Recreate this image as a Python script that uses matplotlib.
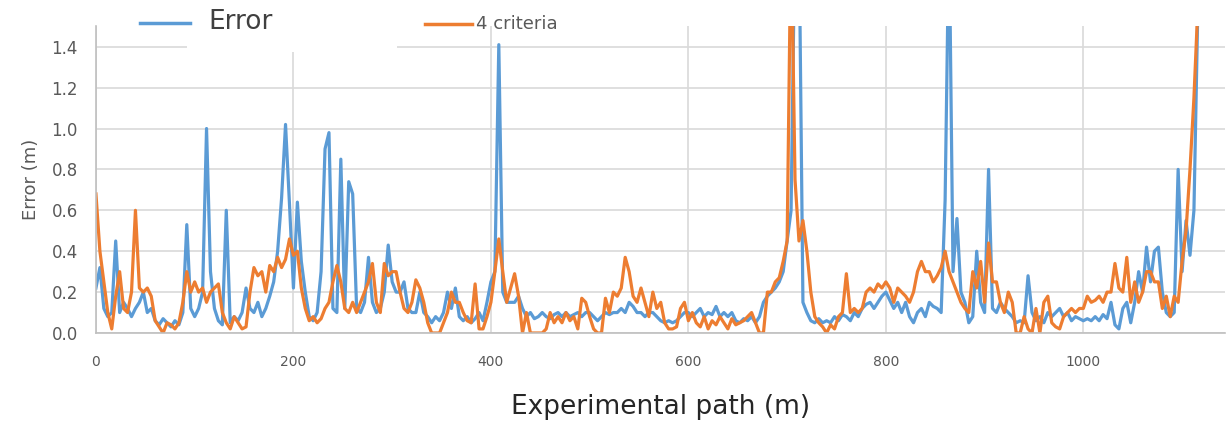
import matplotlib
matplotlib.use("Agg")
import matplotlib.pyplot as plt
import numpy as np
from matplotlib.lines import Line2D
from matplotlib.patches import Rectangle

# distance along the path, one sample every 4 m
path_m = np.arange(0, 1117, 4)

# position error (m), one row per 100 m
error = [
    0.22, 0.32, 0.12, 0.08, 0.10, 0.45, 0.10, 0.15, 0.12, 0.08, 0.12, 0.15, 0.20, 0.10, 0.12, 0.06, 0.04, 0.07, 0.05, 0.03, 0.06, 0.04, 0.10, 0.53, 0.12,
    0.08, 0.12, 0.20, 1.00, 0.30, 0.12, 0.06, 0.04, 0.60, 0.05, 0.08, 0.06, 0.10, 0.22, 0.12, 0.10, 0.15, 0.08, 0.12, 0.18, 0.25, 0.40, 0.66, 1.02, 0.63,
    0.22, 0.64, 0.35, 0.20, 0.08, 0.06, 0.10, 0.30, 0.90, 0.98, 0.12, 0.10, 0.85, 0.12, 0.74, 0.68, 0.12, 0.10, 0.15, 0.37, 0.15, 0.10, 0.12, 0.20, 0.43,
    0.25, 0.20, 0.20, 0.25, 0.12, 0.10, 0.10, 0.20, 0.10, 0.08, 0.05, 0.08, 0.06, 0.10, 0.20, 0.12, 0.22, 0.08, 0.06, 0.08, 0.05, 0.07, 0.10, 0.06, 0.15,
    0.25, 0.30, 1.41, 0.20, 0.15, 0.15, 0.15, 0.18, 0.12, 0.08, 0.10, 0.07, 0.08, 0.10, 0.08, 0.07, 0.09, 0.10, 0.08, 0.10, 0.08, 0.09, 0.10, 0.08, 0.10,
    0.10, 0.08, 0.06, 0.08, 0.10, 0.09, 0.10, 0.10, 0.12, 0.10, 0.15, 0.13, 0.10, 0.10, 0.08, 0.10, 0.10, 0.08, 0.06, 0.05, 0.06, 0.05, 0.06, 0.08, 0.10,
    0.10, 0.08, 0.10, 0.12, 0.08, 0.10, 0.09, 0.13, 0.08, 0.10, 0.08, 0.10, 0.06, 0.05, 0.07, 0.06, 0.08, 0.05, 0.08, 0.15, 0.18, 0.20, 0.22, 0.25, 0.30,
    0.45, 0.60, 2.00, 2.00, 0.15, 0.10, 0.06, 0.05, 0.07, 0.05, 0.06, 0.05, 0.08, 0.06, 0.09, 0.08, 0.06, 0.10, 0.08, 0.12, 0.14, 0.15, 0.12, 0.15, 0.18,
    0.20, 0.16, 0.12, 0.15, 0.10, 0.15, 0.08, 0.05, 0.10, 0.12, 0.08, 0.15, 0.13, 0.12, 0.10, 0.65, 2.00, 0.30, 0.56, 0.20, 0.15, 0.05, 0.08, 0.40, 0.15,
    0.10, 0.80, 0.12, 0.10, 0.15, 0.12, 0.10, 0.08, 0.05, 0.06, 0.05, 0.28, 0.10, 0.06, 0.08, 0.05, 0.10, 0.08, 0.10, 0.12, 0.08, 0.10, 0.06, 0.08, 0.07,
    0.06, 0.07, 0.06, 0.08, 0.06, 0.09, 0.07, 0.15, 0.04, 0.02, 0.12, 0.15, 0.05, 0.15, 0.30, 0.20, 0.42, 0.25, 0.40, 0.42, 0.20, 0.10, 0.08, 0.10, 0.80,
    0.30, 0.55, 0.38, 0.60, 1.60,
]

# error with the 4-criteria method (m)
criteria4 = [
    0.68, 0.40, 0.25, 0.10, 0.02, 0.18, 0.30, 0.12, 0.10, 0.20, 0.60, 0.22, 0.20, 0.22, 0.18, 0.06, 0.03, 0.00, 0.05, 0.04, 0.02, 0.05, 0.15, 0.30, 0.20,
    0.25, 0.20, 0.22, 0.15, 0.20, 0.22, 0.24, 0.10, 0.05, 0.02, 0.08, 0.05, 0.02, 0.03, 0.20, 0.32, 0.28, 0.30, 0.20, 0.33, 0.30, 0.37, 0.32, 0.36, 0.46,
    0.38, 0.40, 0.22, 0.12, 0.06, 0.08, 0.05, 0.07, 0.12, 0.15, 0.25, 0.33, 0.25, 0.12, 0.10, 0.15, 0.10, 0.15, 0.20, 0.25, 0.34, 0.15, 0.10, 0.34, 0.28,
    0.30, 0.30, 0.20, 0.12, 0.10, 0.15, 0.26, 0.22, 0.15, 0.05, 0.00, 0.00, 0.00, 0.05, 0.10, 0.20, 0.15, 0.15, 0.10, 0.06, 0.05, 0.24, 0.02, 0.02, 0.08,
    0.15, 0.30, 0.46, 0.30, 0.15, 0.22, 0.29, 0.18, 0.00, 0.10, 0.00, 0.00, 0.00, 0.00, 0.02, 0.10, 0.05, 0.08, 0.05, 0.10, 0.06, 0.08, 0.02, 0.17, 0.15,
    0.08, 0.02, 0.00, 0.00, 0.17, 0.10, 0.20, 0.18, 0.22, 0.37, 0.30, 0.18, 0.15, 0.22, 0.15, 0.08, 0.20, 0.12, 0.15, 0.05, 0.02, 0.02, 0.03, 0.12, 0.15,
    0.06, 0.10, 0.05, 0.03, 0.08, 0.02, 0.06, 0.04, 0.08, 0.05, 0.02, 0.07, 0.04, 0.05, 0.06, 0.08, 0.10, 0.05, 0.00, 0.00, 0.20, 0.20, 0.25, 0.27, 0.35,
    0.45, 2.00, 0.75, 0.45, 0.55, 0.40, 0.20, 0.08, 0.05, 0.03, 0.00, 0.04, 0.02, 0.08, 0.10, 0.29, 0.10, 0.12, 0.10, 0.12, 0.20, 0.22, 0.20, 0.24, 0.22,
    0.25, 0.22, 0.15, 0.22, 0.20, 0.18, 0.15, 0.20, 0.30, 0.35, 0.30, 0.30, 0.25, 0.28, 0.32, 0.40, 0.30, 0.25, 0.20, 0.15, 0.12, 0.10, 0.30, 0.22, 0.35,
    0.15, 0.44, 0.25, 0.25, 0.15, 0.10, 0.20, 0.15, 0.00, 0.00, 0.08, 0.02, 0.00, 0.12, 0.00, 0.15, 0.18, 0.05, 0.03, 0.02, 0.08, 0.10, 0.12, 0.10, 0.12,
    0.12, 0.18, 0.15, 0.16, 0.18, 0.15, 0.20, 0.20, 0.34, 0.22, 0.20, 0.37, 0.15, 0.25, 0.15, 0.20, 0.30, 0.30, 0.25, 0.25, 0.12, 0.18, 0.08, 0.18, 0.15,
    0.35, 0.50, 0.80, 1.15, 1.60,
]

x_ticks = [0, 200, 400, 600, 800, 1000]
y_ticks = [0.0, 0.2, 0.4, 0.6, 0.8, 1.0, 1.2, 1.4]

blue = "#5B9BD5"
orange = "#ED7D31"
grid_c = "#D9D9D9"
text_c = "#595959"

fig = plt.figure(figsize=(12.27, 4.22), dpi=100)
ax = fig.add_axes([0.0782, 0.2109, 0.9198, 0.7268])

ax.plot(path_m, error, color=blue, lw=2.3, solid_joinstyle="round")
ax.plot(path_m, criteria4, color=orange, lw=2.3, solid_joinstyle="round")

ax.set_xlim(0, 1143)
ax.set_ylim(0, 1.5)
ax.set_xticks(x_ticks)
ax.set_xticklabels([str(v) for v in x_ticks])
ax.set_yticks(y_ticks)
ax.set_yticklabels([f"{v:.1f}" for v in y_ticks])
ax.tick_params(axis="both", length=0, colors=text_c)
ax.tick_params(axis="y", labelsize=12, pad=13)
ax.tick_params(axis="x", labelsize=10, pad=16)
for lab in ax.get_xticklabels():
    lab.set_family(["Liberation Sans Narrow", "DejaVu Sans"])

ax.grid(True, color=grid_c, lw=1.2)
ax.set_axisbelow(True)
for side in ["top", "right"]:
    ax.spines[side].set_visible(False)
for side in ["left", "bottom"]:
    ax.spines[side].set_color("#BFBFBF")
    ax.spines[side].set_linewidth(1.2)

ax.set_ylabel("Error (m)", fontsize=13, color=text_c, labelpad=8)
ax.set_xlabel("Experimental path (m)", fontsize=19, color="#262626", labelpad=18)

# legend entries drawn across the top of the figure
fig.add_artist(Rectangle((0.1524, 0.8768), 0.1711, 0.1232, transform=fig.transFigure,
                         facecolor="white", edgecolor="none", zorder=5))
fig.add_artist(Line2D([0.1141, 0.1549], [0.9455, 0.9455], transform=fig.transFigure,
                      color=blue, lw=2.5, zorder=6))
fig.text(0.1695, 0.947, "Error", fontsize=19, color="#404040", va="center", ha="left", zorder=6)
fig.add_artist(Line2D([0.3464, 0.3847], [0.9431, 0.9431], transform=fig.transFigure,
                      color=orange, lw=2.5, zorder=6))
fig.text(0.3879, 0.943, "4 criteria", fontsize=13, color=text_c, va="center", ha="left", zorder=6)

fig.savefig("out.png", dpi=100)
